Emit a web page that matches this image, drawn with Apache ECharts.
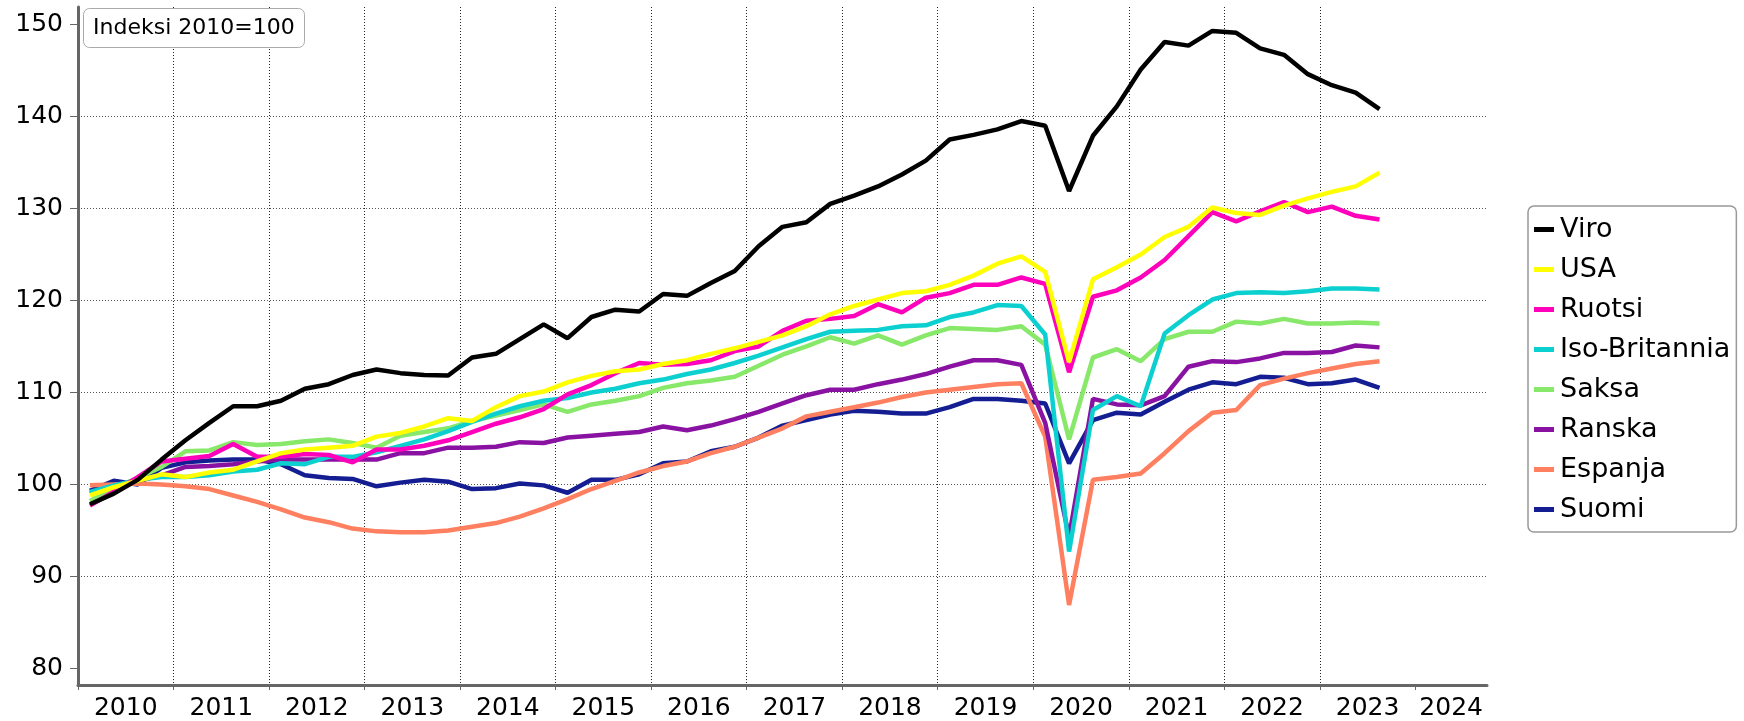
<!DOCTYPE html>
<html>
<head>
<meta charset="utf-8">
<script src="https://cdn.jsdelivr.net/npm/echarts@6/dist/echarts.min.js"></script>
<style>
  html, body { margin: 0; padding: 0; background: #fff; }
  #chart { width: 1744px; height: 721px; }
</style>
</head>
<body>
<div id="chart"></div>
<script>
// quarterly data 2010Q1 .. 2023Q3, index 2010=100
const years = ['2010', '2011', '2012', '2013', '2014', '2015', '2016', '2017',
  '2018', '2019', '2020', '2021', '2022', '2023', '2024'];
const quarters = [];
for (let y = 2010; y <= 2023; y++) {
  for (let q = 1; q <= 4; q++) quarters.push(y + 'Q' + q);
}
quarters.length = 55;

const viro = [97.85, 99.0, 100.5, 102.7, 104.8, 106.7, 108.5, 108.5, 109.1, 110.4, 110.9, 111.9,
  112.5, 112.1, 111.9, 111.85, 113.8, 114.2, 115.8, 117.4, 115.9, 118.2, 119.0, 118.8,
  120.7, 120.5, 121.9, 123.2, 125.9, 128.0, 128.5, 130.5, 131.4, 132.4, 133.7, 135.2,
  137.5, 138.0, 138.6, 139.5, 139.0, 131.9, 137.9, 141.1, 145.1, 148.1, 147.7, 149.3,
  149.1, 147.4, 146.7, 144.6, 143.4, 142.6, 140.8];
const usa = [98.8, 99.7, 100.4, 101.1, 100.8, 101.3, 101.6, 102.5, 103.4, 103.8, 104.0, 104.2,
  105.2, 105.6, 106.3, 107.2, 106.9, 108.4, 109.6, 110.1, 111.1, 111.8, 112.3, 112.5,
  113.1, 113.5, 114.2, 114.8, 115.5, 116.2, 117.2, 118.5, 119.4, 120.1, 120.8, 121.0,
  121.7, 122.7, 124.0, 124.8, 123.1, 113.3, 122.3, 123.6, 125.0, 126.9, 128.0, 130.1,
  129.5, 129.3, 130.3, 131.1, 131.8, 132.4, 133.9];
const ruotsi = [97.7, 99.2, 100.8, 102.5, 102.8, 103.1, 104.4, 103.0, 103.0, 103.3, 103.2, 102.4,
  103.8, 103.8, 104.2, 104.8, 105.7, 106.6, 107.3, 108.2, 109.8, 110.8, 112.1, 113.2,
  113.0, 113.1, 113.5, 114.5, 115.0, 116.7, 117.8, 118.0, 118.3, 119.6, 118.7, 120.3,
  120.8, 121.7, 121.7, 122.5, 121.8, 112.2, 120.4, 121.1, 122.5, 124.4, 127.0, 129.6,
  128.6, 129.7, 130.7, 129.6, 130.2, 129.2, 128.8];
const isoBritannia = [99.2, 99.9, 100.5, 100.8, 100.8, 101.0, 101.4, 101.6, 102.3, 102.2, 103.0, 103.0,
  103.5, 104.2, 104.9, 105.8, 106.8, 107.7, 108.5, 109.1, 109.4, 110.0, 110.4, 111.0,
  111.4, 112.0, 112.5, 113.2, 114.0, 114.9, 115.8, 116.6, 116.7, 116.8, 117.2, 117.3,
  118.2, 118.7, 119.5, 119.4, 116.3, 92.7, 108.1, 109.6, 108.5, 116.4, 118.4, 120.1,
  120.8, 120.9, 120.8, 121.0, 121.3, 121.3, 121.2];
const saksa = [98.2, 99.6, 100.7, 101.9, 103.6, 103.7, 104.6, 104.3, 104.4, 104.7, 104.9, 104.5,
  104.0, 105.3, 105.7, 106.1, 106.9, 107.5, 108.1, 108.7, 107.9, 108.7, 109.1, 109.6,
  110.5, 111.0, 111.3, 111.7, 112.9, 114.1, 115.0, 116.0, 115.3, 116.2, 115.2, 116.2,
  117.0, 116.9, 116.8, 117.2, 115.2, 104.9, 113.8, 114.7, 113.4, 115.8, 116.6, 116.6,
  117.7, 117.5, 118.0, 117.5, 117.5, 117.6, 117.5];
const ranska = [99.0, 99.8, 100.4, 101.0, 101.9, 102.0, 102.2, 102.5, 102.7, 102.7, 102.7, 102.7,
  102.7, 103.4, 103.4, 104.0, 104.0, 104.1, 104.6, 104.5, 105.1, 105.3, 105.5, 105.7,
  106.3, 105.9, 106.4, 107.1, 107.9, 108.8, 109.7, 110.3, 110.3, 110.9, 111.4, 112.0,
  112.8, 113.5, 113.5, 113.0, 106.7, 94.3, 109.3, 108.7, 108.6, 109.6, 112.8, 113.4,
  113.3, 113.7, 114.3, 114.3, 114.4, 115.1, 114.9];
const espanja = [99.9, 100.0, 100.1, 100.0, 99.8, 99.5, 98.8, 98.1, 97.3, 96.4, 95.9, 95.2,
  94.9, 94.8, 94.8, 95.0, 95.4, 95.8, 96.5, 97.4, 98.4, 99.5, 100.4, 101.3,
  102.0, 102.5, 103.4, 104.1, 105.1, 106.1, 107.4, 107.9, 108.4, 108.9, 109.5, 110.0,
  110.3, 110.6, 110.9, 111.0, 105.2, 86.9, 100.5, 100.8, 101.2, 103.4, 105.8, 107.8,
  108.1, 110.8, 111.5, 112.1, 112.6, 113.1, 113.4];
const suomi = [99.3, 100.4, 100.0, 101.8, 102.4, 102.6, 102.7, 102.7, 102.2, 101.0, 100.7, 100.6,
  99.8, 100.2, 100.5, 100.3, 99.5, 99.6, 100.1, 99.9, 99.1, 100.5, 100.5, 101.1,
  102.3, 102.5, 103.6, 104.1, 105.1, 106.4, 107.0, 107.6, 108.0, 107.9, 107.7, 107.7,
  108.4, 109.3, 109.3, 109.1, 108.8, 102.3, 107.0, 107.8, 107.6, 109.0, 110.3, 111.1,
  110.9, 111.7, 111.6, 110.9, 111.0, 111.4, 110.5];

const yTicks = [80, 90, 100, 110, 120, 130, 140, 150];

const countries = [
  { name: 'Viro', data: viro, color: '#000000' },
  { name: 'USA', data: usa, color: '#ffff00' },
  { name: 'Ruotsi', data: ruotsi, color: '#ff00bb' },
  { name: 'Iso-Britannia', data: isoBritannia, color: '#0cd0d0' },
  { name: 'Saksa', data: saksa, color: '#88e86a' },
  { name: 'Ranska', data: ranska, color: '#8a12a2' },
  { name: 'Espanja', data: espanja, color: '#ff8060' },
  { name: 'Suomi', data: suomi, color: '#141e92' },
];

// quarter label -> position in years (middle of the quarter)
function quarterX(label) {
  const [y, q] = label.split('Q');
  return Number(y) + (Number(q) - 0.5) / 4;
}

const FONT = 'DejaVu Sans';
const chart = echarts.init(document.getElementById('chart'));

const firstYear = Number(years[0]);
const lastYear = Number(years[years.length - 1]);
// year label in the middle of its year, the last (partial) year in the middle of what is shown
const yearLabelPos = years.map((y, i) => i < years.length - 1 ? Number(y) + 0.5 : Number(y) + 0.375);

chart.setOption({
  animation: false,
  textStyle: { fontFamily: FONT },
  title: {
    text: 'Indeksi 2010=100',
    left: 83,
    top: 8,
    padding: [8, 10],
    borderColor: '#aaa',
    borderWidth: 1,
    borderRadius: 6,
    backgroundColor: '#fff',
    textStyle: { fontFamily: FONT, fontSize: 22, fontWeight: 'normal', color: '#000', lineHeight: 24 },
  },
  legend: {
    orient: 'vertical',
    left: 1528,
    top: 206,
    padding: [10, 6, 9, 6],
    itemGap: 13,
    itemWidth: 20,
    itemHeight: 5,
    icon: 'rect',
    borderColor: '#999',
    borderWidth: 1.5,
    borderRadius: 6,
    data: countries.map((c) => c.name),
    textStyle: { fontFamily: FONT, fontSize: 27, color: '#000', lineHeight: 26, padding: [0, 0, 0, 1] },
  },
  grid: { left: 78, right: 257, top: 7, bottom: 36 },
  xAxis: {
    type: 'value',
    min: firstYear,
    max: lastYear + 0.75,
    interval: 1,
    axisLine: { lineStyle: { color: '#666', width: 3 } },
    axisTick: { length: 5, customValues: years.map(Number), lineStyle: { color: '#666', width: 1 } },
    axisLabel: {
      customValues: yearLabelPos,
      formatter: (v) => years[Math.floor(v) - firstYear],
      fontFamily: FONT,
      fontSize: 25,
      color: '#000',
      margin: 11,
    },
    splitLine: {
      show: true,
      showMinLine: false,
      showMaxLine: false,
      lineStyle: { color: '#222', type: [1, 2], width: 1 },
    },
  },
  yAxis: {
    type: 'value',
    min: 78.2,
    max: 151.9,
    axisLine: { show: true, lineStyle: { color: '#666', width: 3 } },
    axisTick: { show: true, length: 8, customValues: yTicks, lineStyle: { color: '#666', width: 1 } },
    axisLabel: {
      customValues: yTicks,
      fontFamily: FONT,
      fontSize: 25,
      color: '#000',
      margin: 15,
    },
    splitLine: {
      show: true,
      showMinLine: false,
      showMaxLine: false,
      lineStyle: { color: '#555', type: [1, 2], width: 1 },
    },
  },
  // later series are drawn on top, so the legend's first line comes last
  series: countries.slice().reverse().map((c) => ({
    name: c.name,
    type: 'line',
    showSymbol: false,
    symbol: 'none',
    color: c.color,
    lineStyle: { color: c.color, width: 4.5 },
    data: c.data.map((v, i) => [quarterX(quarters[i]), v]),
  })),
});
</script>
</body>
</html>
